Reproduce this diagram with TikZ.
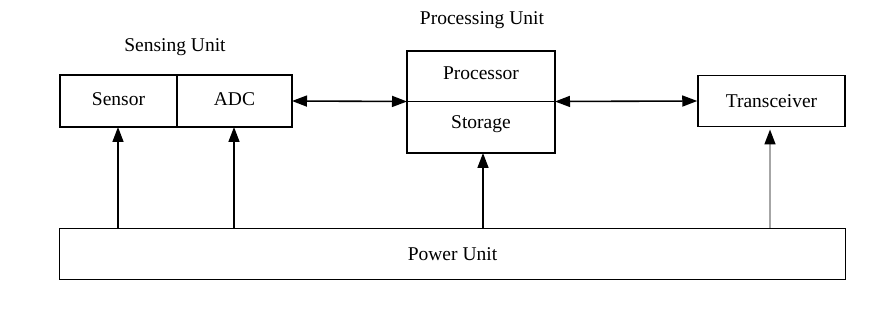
\documentclass[tikz,border=0pt]{standalone}
\usepackage{fontspec}
\setmainfont{Liberation Serif}
\usetikzlibrary{arrows.meta}
\begin{document}
\begin{tikzpicture}[x=1pt,y=-1pt,
  box/.style={draw=black,line width=1.5pt,fill=white},
  lbl/.style={font=\fontsize{19.5}{22}\selectfont,inner sep=0pt},
  tip/.style={-{Triangle[length=15pt,width=11pt]}},
  dtip/.style={{Triangle[length=15pt,width=11pt]}-{Triangle[length=15pt,width=11pt]}},
  conn/.style={line width=1.6pt}]
\useasboundingbox (0,0) rectangle (871,320);
% Sensing unit
\draw[box] (60,75) rectangle (177,127);
\draw[box] (177,75) rectangle (292,127);
\coordinate (sensorB) at (118,127);
\coordinate (adcB) at (234,127);
\coordinate (adcR) at (292,101);
\node[lbl] (sensor) at (118.5,99) {Sensor};
\node[lbl] (adc) at (234.5,99) {ADC};
\node[lbl] (sensing) at (175,47) {Sensing Unit};
% Processing unit
\draw[box] (407,51) rectangle (555,153);
\draw[line width=1.5pt] (407,101.5) -- (555,101.5);
\coordinate (procL) at (407,101.5);
\coordinate (procR) at (555,101.5);
\coordinate (procB) at (483,153);
\node[lbl] (processor) at (481,73) {Processor};
\node[lbl] (storage) at (481,124) {Storage};
\node[lbl] (processing) at (482,20) {Processing Unit};
% Transceiver
\node[box,minimum width=147pt,minimum height=51pt,inner sep=0pt,
  font=\fontsize{19.5}{22}\selectfont] (trans) at (771.5,101) {Transceiver};
% Power unit
\node[box,minimum width=786pt,minimum height=51pt,inner sep=0pt,
  font=\fontsize{19.5}{22}\selectfont] (power) at (452.5,254) {Power Unit};
% connectors
\draw[conn,dtip] (adcR) -- (procL);
\draw[conn,dtip] (procR) -- (trans.west);
\draw[conn,tip] (power.north -| sensorB) -- (sensorB);
\draw[conn,tip] (power.north -| adcB) -- (adcB);
\draw[conn,tip] (power.north -| procB) -- (procB);
\coordinate (transB) at (770,129.5);
\draw[conn,draw=gray!70,-{Triangle[length=15pt,width=11pt,color=black]}] (power.north -| transB) -- (transB);
\end{tikzpicture}
\end{document}
